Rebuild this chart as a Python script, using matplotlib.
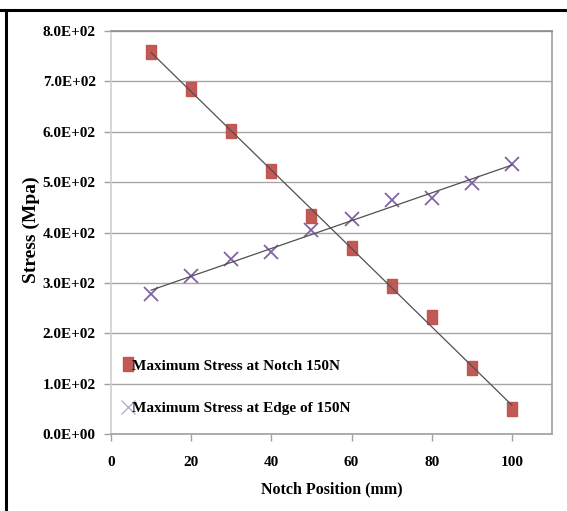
import numpy as np
import matplotlib
matplotlib.use("Agg")
import matplotlib.pyplot as plt
from matplotlib.lines import Line2D
from matplotlib.ticker import FuncFormatter

# notch position (mm) and maximum stress (MPa)
position = [10, 20, 30, 40, 50, 60, 70, 80, 90, 100]
stress_notch = [758, 684, 601, 522, 432, 369, 294, 232, 131, 50]
stress_edge = [278, 313, 347, 361, 405, 427, 464, 468, 498, 536]

plt.rcParams["font.family"] = ["Liberation Serif", "DejaVu Serif"]
plt.rcParams["font.weight"] = "bold"

fig = plt.figure(figsize=(5.67, 5.11), dpi=100)
ax = fig.add_axes([111 / 567, 1 - 434 / 511, 441 / 567, 403 / 511])

# tall rectangle marker for the notch series
rect = [(-0.36, -0.5), (0.36, -0.5), (0.36, 0.5), (-0.36, 0.5), (-0.36, -0.5)]

ax.plot(position, stress_notch, linestyle="none", marker=rect, markersize=10.5,
        color="#C0504D", markeredgecolor="#C0504D", alpha=0.95,
        label="Maximum Stress at Notch 150N", zorder=3)
ax.plot(position, stress_edge, linestyle="none", marker="x", markersize=9.5,
        markeredgewidth=1.3, color="#8064A2",
        label="Maximum Stress at Edge of 150N", zorder=3)

# linear trendlines
for ys in (stress_notch, stress_edge):
    k, b = np.polyfit(position, ys, 1)
    xs = np.array([position[0], position[-1]])
    ax.plot(xs, k * xs + b, color="#505050", linewidth=0.9, zorder=4)

ax.set_xlim(0, 110)
ax.set_ylim(0, 800)
ax.set_xticks([0, 20, 40, 60, 80, 100])
ax.set_yticks(np.arange(0, 801, 100))
ax.yaxis.set_major_formatter(FuncFormatter(lambda v, p: f"{v:.1E}"))
ax.grid(axis="y", color="#A6A6A6", linewidth=1.0)
ax.set_axisbelow(True)

for name, sp in ax.spines.items():
    sp.set_color("#A0A0A0")
    sp.set_linewidth(1.2)
ax.spines["top"].set_color("#8C8C8C")
ax.spines["left"].set_color("#D0D0D0")

ax.tick_params(axis="both", labelsize=11, color="#A0A0A0", length=5, width=1)
ax.tick_params(axis="y", pad=6)
ax.tick_params(axis="x", pad=11)
for lbl in ax.get_xticklabels() + ax.get_yticklabels():
    lbl.set_fontweight("bold")

ax.set_ylabel("Stress (Mpa)", fontsize=14, fontweight="bold")
ax.yaxis.set_label_coords(-0.161, 0.506)
ax.set_xlabel("Notch Position (mm)", fontsize=11.5, fontweight="bold")
ax.xaxis.set_label_coords(0.5, -0.117)

leg = ax.legend(loc="lower left", bbox_to_anchor=(-0.002, 0.012), frameon=False,
                handlelength=0.5, handletextpad=0.0, labelspacing=1.9,
                prop={"size": 11, "weight": "bold"})
leg.legend_handles[1].set_color("#B4A4D0")
leg.legend_handles[1].set_markeredgewidth(0.9)

# table-cell border around the chart
fig.add_artist(Line2D([0, 1], [1 - 10 / 511, 1 - 10 / 511], color="black", linewidth=2.2))
fig.add_artist(Line2D([6 / 567, 6 / 567], [0, 1 - 10 / 511], color="black", linewidth=2.2))

fig.savefig("out.png", dpi=100)
